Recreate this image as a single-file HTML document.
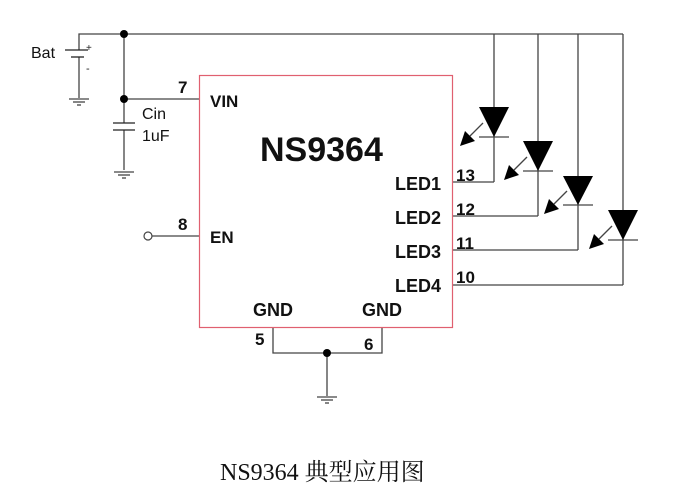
<!DOCTYPE html>
<html><head><meta charset="utf-8"><style>html,body{margin:0;padding:0;background:#fff}svg{display:block}</style></head><body>
<svg width="694" height="499" viewBox="0 0 694 499" xmlns="http://www.w3.org/2000/svg" font-family="Liberation Sans, Arial, sans-serif">
<g stroke="#444" stroke-width="1.3" fill="none">
<polyline points="79,50 79,34 623,34"/>
<line x1="124" y1="34" x2="124" y2="123"/>
<line x1="124" y1="99" x2="200" y2="99"/>
<line x1="124" y1="130" x2="124" y2="170"/>
<line x1="79" y1="57" x2="79" y2="98"/>
<line x1="65" y1="50" x2="88" y2="50" stroke="#222"/>
<line x1="71" y1="57" x2="84" y2="57" stroke="#222"/>
<line x1="69" y1="99" x2="89" y2="99"/><line x1="73" y1="102" x2="85" y2="102"/><line x1="77" y1="105" x2="81" y2="105"/>
<line x1="114" y1="172" x2="134" y2="172"/><line x1="118" y1="175" x2="130" y2="175"/><line x1="122" y1="178" x2="126" y2="178"/>
<line x1="113" y1="123" x2="135" y2="123" stroke="#222"/>
<line x1="113" y1="130" x2="135" y2="130" stroke="#222"/>
<line x1="152" y1="236" x2="200" y2="236"/>
<line x1="494" y1="34" x2="494" y2="182"/><line x1="453" y1="182" x2="494" y2="182"/>
<line x1="538" y1="34" x2="538" y2="216"/><line x1="453" y1="216" x2="538" y2="216"/>
<line x1="578" y1="34" x2="578" y2="250"/><line x1="453" y1="250" x2="578" y2="250"/>
<line x1="623" y1="34" x2="623" y2="285"/><line x1="453" y1="285" x2="623" y2="285"/>
<line x1="479" y1="137" x2="509" y2="137"/>
<line x1="523" y1="171" x2="553" y2="171"/>
<line x1="563" y1="205" x2="593" y2="205"/>
<line x1="608" y1="240" x2="638" y2="240"/>
<line x1="483" y1="123" x2="470" y2="136"/>
<line x1="527" y1="157" x2="514" y2="170"/>
<line x1="567" y1="191" x2="554" y2="204"/>
<line x1="612" y1="226" x2="599" y2="239"/>
<polyline points="273,328 273,353 382,353 382,328"/>
<line x1="327" y1="353" x2="327" y2="396"/>
<line x1="317" y1="397" x2="337" y2="397"/><line x1="321" y1="400" x2="333" y2="400"/><line x1="325" y1="403" x2="329" y2="403"/>
</g>
<circle cx="148" cy="236" r="4" fill="#fff" stroke="#444" stroke-width="1.2"/>
<circle cx="124" cy="34" r="4" fill="#000"/>
<circle cx="124" cy="99" r="4" fill="#000"/>
<circle cx="327" cy="353" r="4" fill="#000"/>
<g fill="#000">
<polygon points="479,107 509,107 494,137"/>
<polygon points="523,141 553,141 538,171"/>
<polygon points="563,176 593,176 578,205"/>
<polygon points="608,210 638,210 623,240"/>
<polygon points="460,146 465,131 475,141"/>
<polygon points="504,180 509,165 519,175"/>
<polygon points="544,214 549,199 559,209"/>
<polygon points="589,249 594,234 604,244"/>
</g>
<rect x="199.5" y="75.5" width="253" height="252" fill="none" stroke="#e06070" stroke-width="1.2"/>
<g font-size="16" fill="#111">
<text x="31" y="58">Bat</text>
<text x="142" y="119">Cin</text>
<text x="142" y="141">1uF</text>
</g>
<text x="86" y="51" font-size="10" fill="#222">+</text>
<text x="86" y="72" font-size="11" fill="#222">-</text>
<g font-size="17" font-weight="bold" fill="#111">
<text x="178" y="93">7</text>
<text x="178" y="230">8</text>
<text x="210" y="107">VIN</text>
<text x="210" y="243">EN</text>
<text x="395" y="190" font-size="18">LED1</text>
<text x="395" y="224" font-size="18">LED2</text>
<text x="395" y="258" font-size="18">LED3</text>
<text x="395" y="292" font-size="18">LED4</text>
<text x="456" y="181">13</text>
<text x="456" y="215">12</text>
<text x="456" y="249">11</text>
<text x="456" y="283">10</text>
<text x="253" y="316" font-size="18">GND</text>
<text x="362" y="316" font-size="18">GND</text>
<text x="255" y="345">5</text>
<text x="364" y="350">6</text>
<text x="260" y="161" font-size="34">NS9364</text>
</g>
<text x="220" y="480" font-size="24" fill="#111" font-family="Liberation Serif, Noto Serif CJK SC, serif">NS9364 典型应用图</text>
</svg>
</body></html>
